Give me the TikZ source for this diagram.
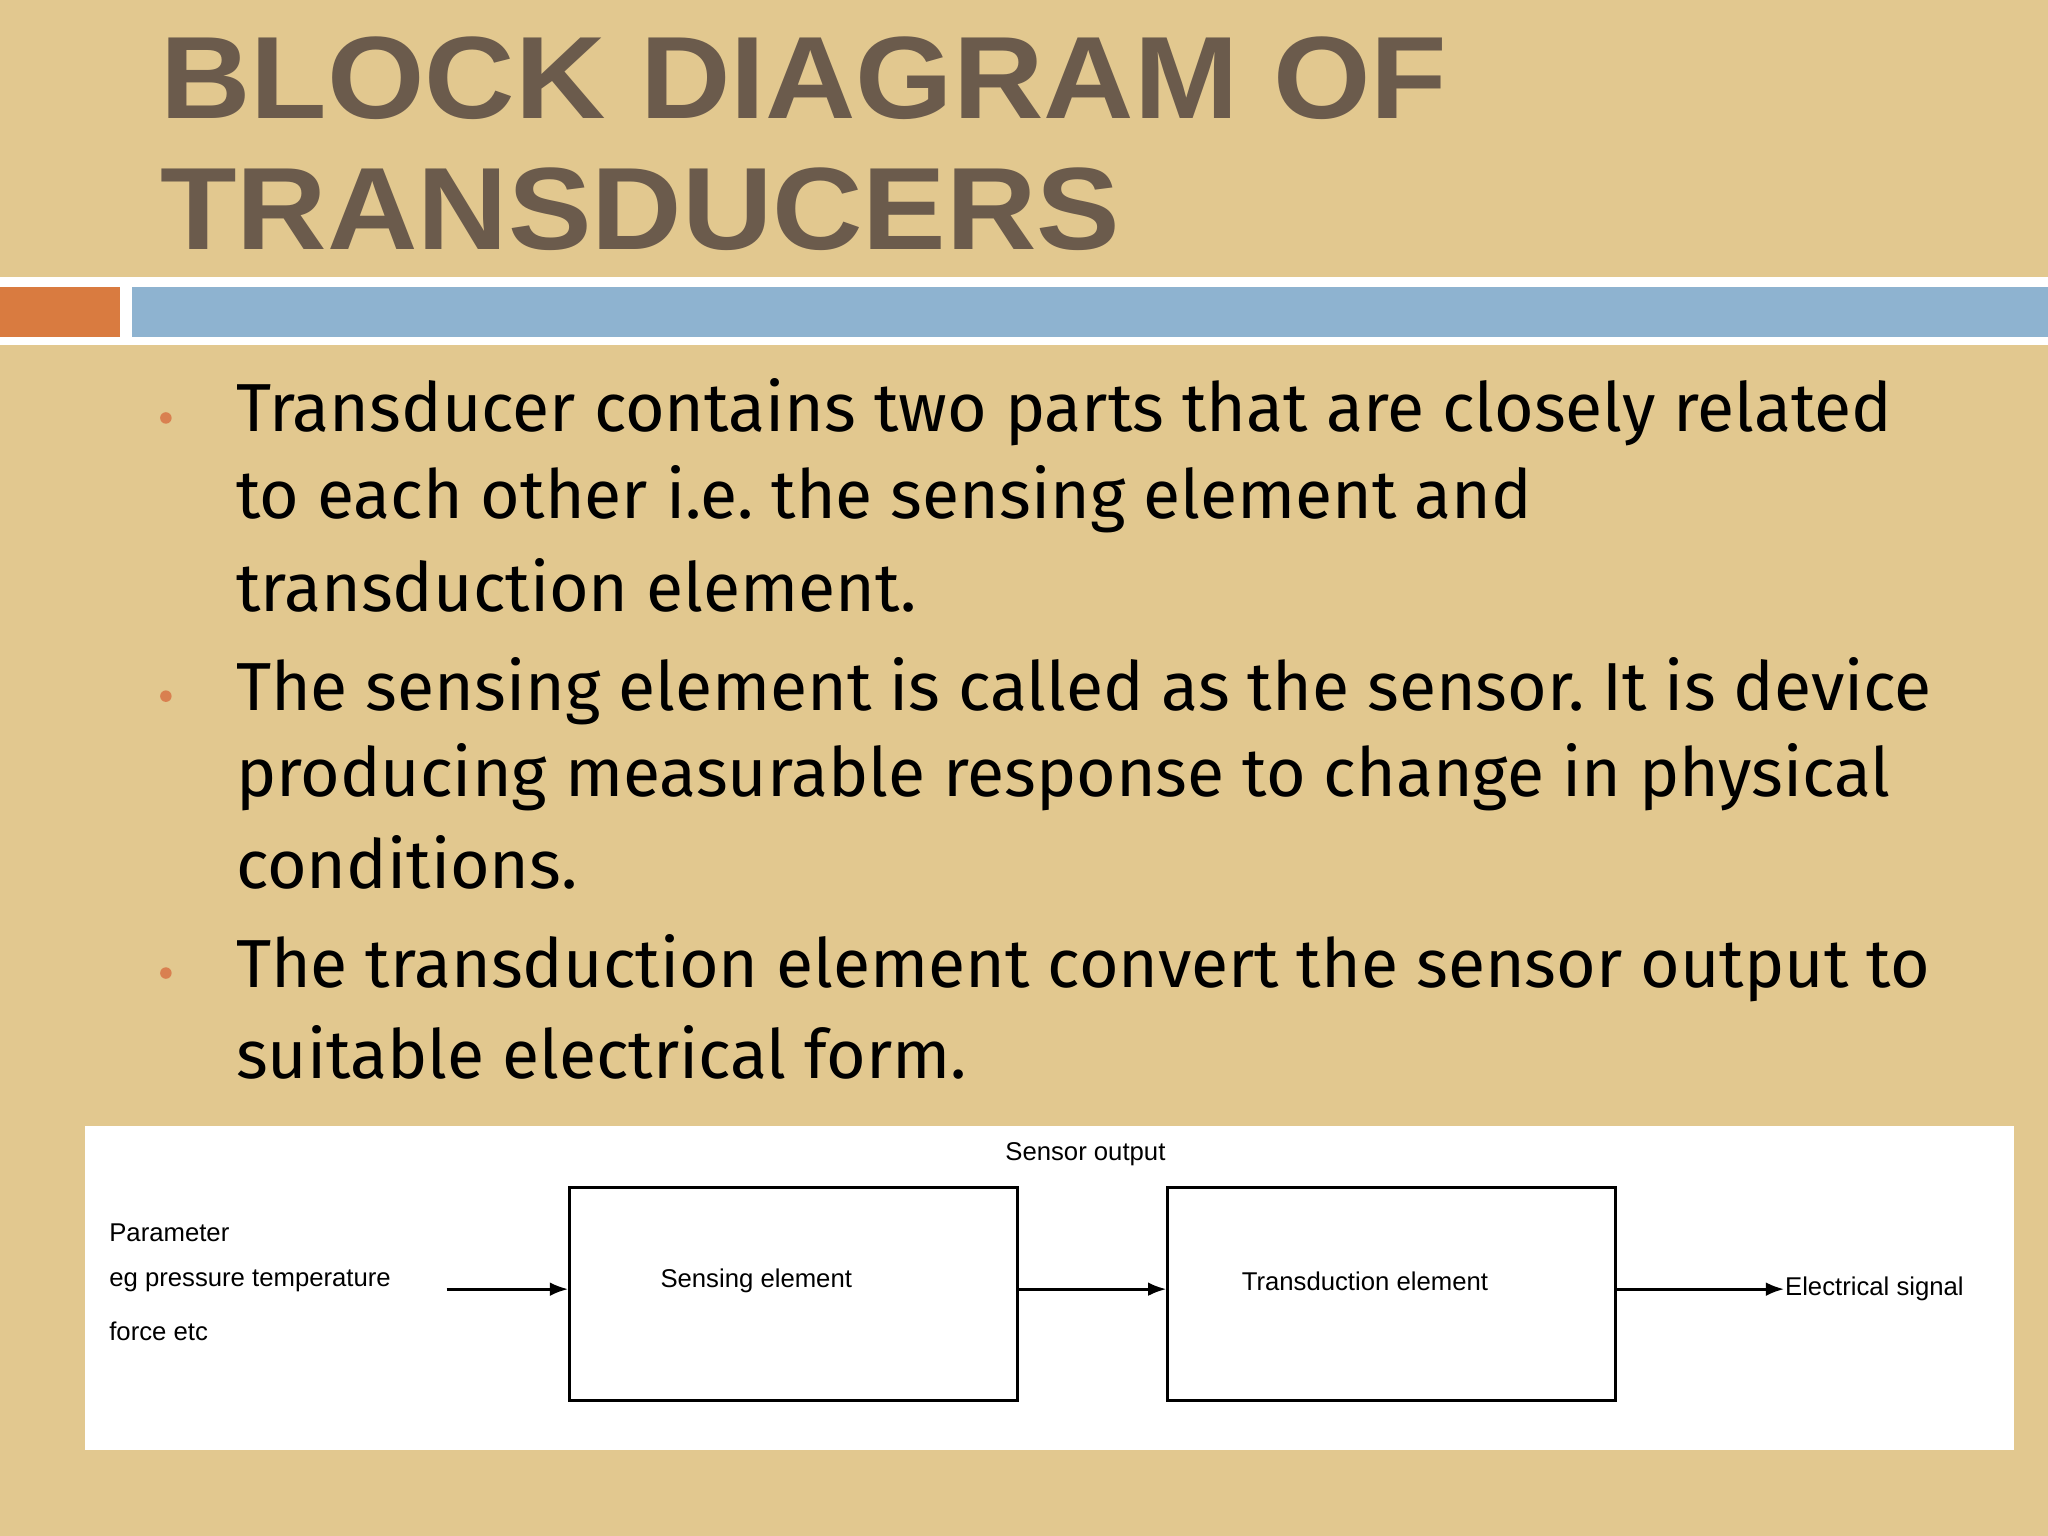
\documentclass[tikz,border=0pt]{standalone}
\usepackage{fontspec}
\setmainfont{Liberation Sans}
\newfontfamily\bodyf{Fira Sans}
\usetikzlibrary{arrows.meta}
\frenchspacing
\definecolor{bg}{HTML}{E2C88F}
\definecolor{ttl}{HTML}{6B5B4C}
\definecolor{orng}{HTML}{D97B40}
\definecolor{blu}{HTML}{8EB3D0}
\definecolor{bul}{HTML}{D98050}
\tikzset{blk/.style={draw,line width=0.6pt,minimum width=3.43cm,minimum height=1.63cm,anchor=north west},
small/.style={font=\fontsize{5.6}{7}\selectfont,inner sep=0pt},
arr/.style={-{Latex[length=4pt,width=3pt]},line width=0.6pt},
bt/.style={anchor=west,font=\bodyf\frenchspacing\fontsize{14.8}{18}\selectfont,inner sep=0pt,align=left},
dot/.style={circle,fill=bul,inner sep=0pt,minimum size=2.5pt}}
\begin{document}
\begin{tikzpicture}[yscale=-1]
\useasboundingbox (0,0) rectangle (15.68,11.76);
\fill[bg] (0,0) rectangle (15.68,11.76);
\fill[white] (0,2.12) rectangle (15.68,2.64);
\fill[orng] (0,2.2) rectangle (0.92,2.58);
\fill[blu] (1.01,2.2) rectangle (15.68,2.58);
\node[anchor=west,text=ttl,font=\bfseries\fontsize{25.5}{28.5}\selectfont,align=left,inner sep=0pt,xscale=1.07] (title) at (1.22,1.1) {BLOCK DIAGRAM OF\\TRANSDUCERS};
\node[bt] (b1) at (1.8,3.16) {Transducer contains two parts that are closely related};
\node[bt] (b1b) at (1.8,3.82) {to each other i.e. the sensing element and};
\node[bt] (b1c) at (1.8,4.48) {transduction element.};
\node[bt] (b2) at (1.8,5.29) {The sensing element is called as the sensor. It is device};
\node[bt] (b2b) at (1.8,5.95) {producing measurable response to change in physical};
\node[bt] (b2c) at (1.8,6.6) {conditions.};
\node[bt] (b3) at (1.8,7.41) {The transduction element convert the sensor output to};
\node[bt] (b3b) at (1.8,8.06) {suitable electrical form.};
\node[dot] (d1) at (1.27,3.2) {};
\node[dot] (d2) at (1.27,5.33) {};
\node[dot] (d3) at (1.27,7.45) {};
\fill[white] (0.65,8.62) rectangle (15.42,11.1);
\node[blk] (se) at (4.35,9.08) {};
\node[blk] (te) at (8.93,9.08) {};
\node[small] at (5.79,9.81) {Sensing element};
\node[small] at (10.45,9.81) {Transduction element};
\node[small] (so) at (8.31,8.84) {Sensor output};
\node[small,anchor=west] (p1) at (0.83,9.44) {Parameter};
\node[small,anchor=west] (p2) at (0.83,9.81) {eg pressure temperature};
\node[small,anchor=west] (p3) at (0.83,10.19) {force etc};
\node[small,anchor=west] (es) at (13.66,9.87) {Electrical signal};
\coordinate (pin) at (3.42,9.87);
\draw[arr] (pin) -- (se.west |- pin);
\draw[arr] (se.east |- pin) -- (te.west |- pin);
\draw[arr] (te.east |- es) -- (es.west);
\end{tikzpicture}
\end{document}
